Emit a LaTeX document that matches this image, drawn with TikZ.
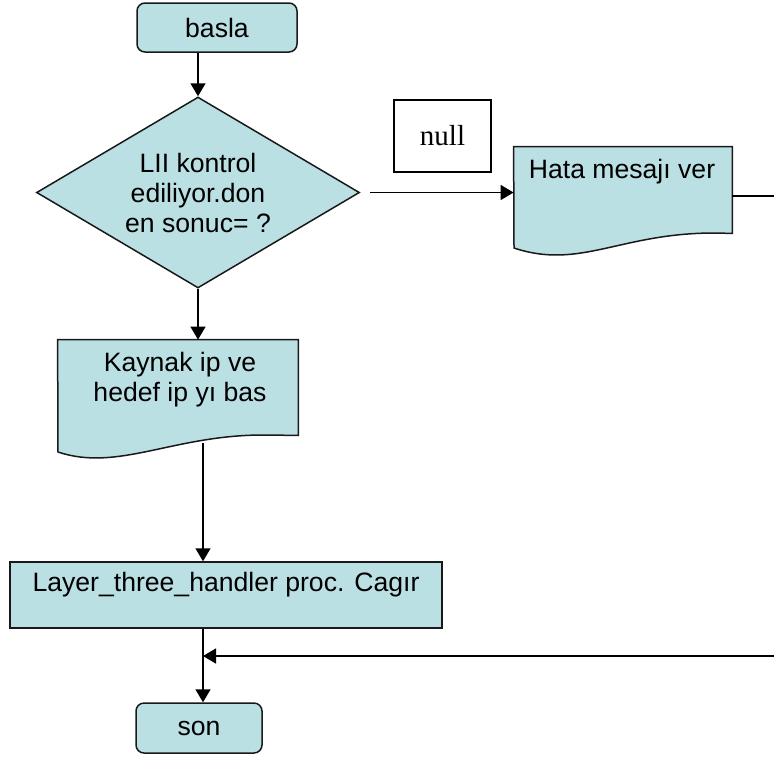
\documentclass[tikz,border=0pt]{standalone}
\usepackage{fontspec}
\setmainfont{Liberation Sans}
\newfontfamily\timesyazi{Liberation Serif}
\usetikzlibrary{arrows.meta,shapes.geometric}

\begin{document}
\begin{tikzpicture}[x=0.5pt,y=-0.5pt,font=\fontsize{13.3}{15}\selectfont,
 kutu/.style={fill=kutucolor,draw=black!90,line width=0.75pt},
 uc/.style={kutu,rounded corners=4pt,minimum width=80pt,minimum height=24.5pt,inner sep=0pt},
 karar/.style={kutu,diamond,aspect=1.69,minimum width=161.5pt,minimum height=95.5pt,inner sep=0pt,align=center},
 islem/.style={kutu,rectangle,inner sep=0pt},
 belge/.style={rectangle,inner sep=0pt},
 yazi/.style={inner sep=0pt,align=center},
 ok/.style={line width=0.75pt,-{Triangle[length=6.5pt,width=7.5pt]}}]
 \definecolor{kutucolor}{RGB}{187,224,227}
 \useasboundingbox (0,0) rectangle (774,757);
 \clip (0,0) rectangle (774,757);

 \node[uc] (basla) at (217,27.5) {basla};
 \node[karar] (karar) at (198,192.5) {LII kontrol\\ediliyor.don\\en sonuc= ?};
 \node[draw,line width=0.75pt,minimum width=48.5pt,minimum height=36pt,inner sep=0pt,
  font=\timesyazi\fontsize{14.5}{16}\selectfont] (null) at (442.5,136) {null};

 \node[belge,minimum width=109pt,minimum height=43pt] (hata) at (623,190) {};
 \draw[kutu] (hata.north west) -- (514,248) .. controls (580,270) and (620,233) .. (714,233)
  -- (hata.south east) -- (hata.north east) -- cycle;
 \node[yazi] (hata-yazi) at (622,172) {Hata mesajı ver};

 \node[belge,minimum width=120pt,minimum height=47.5pt] (kaynak) at (178,387.5) {};
 \draw[kutu] (kaynak.north west) -- (58,452) .. controls (118,472) and (173,435) .. (263,435)
  -- (kaynak.south east) -- (kaynak.north east) -- cycle;
 \node[yazi] (kaynak-yazi) at (180,380) {Kaynak ip ve\\hedef ip yı bas};

 \node[islem,minimum width=216pt,minimum height=33pt] (layer) at (226,595) {};
 \node[yazi] (layer-yazi) at (226,585) {Layer\_three\_handler proc. Cagır};
 \node[uc,minimum width=63pt,minimum height=25pt] (son) at (199,728) {son};

 \coordinate (birles) at (203,656);
 \coordinate (kose) at (800,196);

 \draw[ok] (karar.north |- basla.south) -- (karar.north);
 \draw[ok,shorten <=5pt] (karar.east) -- (karar.east -| hata.west);
 \draw[ok] (karar.south) -- (karar.south |- kaynak.north);
 \draw[ok] ([yshift=-4pt]kaynak.south -| birles) -- (layer.north -| birles);
 \draw[ok] (layer.south -| birles) -- (birles |- son.north);
 \draw[ok] ([yshift=-3pt]hata.east) -- (kose) |- (birles);
\end{tikzpicture}
\end{document}
